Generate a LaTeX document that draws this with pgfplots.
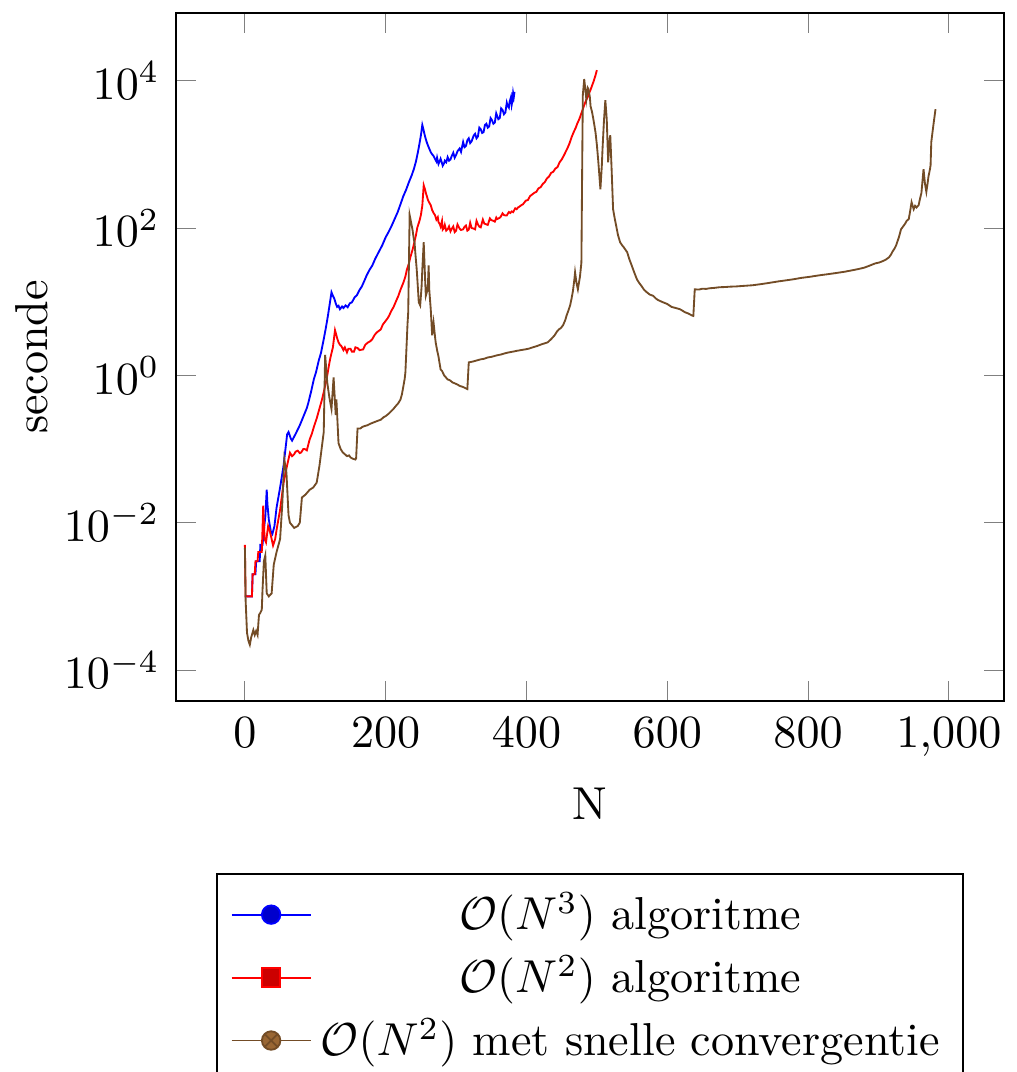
\documentclass[border=0pt]{standalone}
\usepackage{pgfplots}
\pgfplotsset{compat=1.18}
\begin{document}
\begin{tikzpicture}
\begin{axis}[
  scale only axis,
  width=179.4pt, height=149.1pt,
  ymode=log,
  xmin=-98, xmax=1078,
  ymin=3.8e-5, ymax=8.3e4,
  ytick={1e-4,1e-2,1,1e2,1e4},
  xtick={0,200,400,600,800,1000},
  xlabel={N}, ylabel={seconde},
  ylabel style={yshift=-3.4pt},
  legend style={at={(0.5,-0.25)}, anchor=north},
  legend cell align=center,
]
\addlegendimage{blue, mark=*, mark options={fill=blue!80!black}}
\addlegendentry{$\mathcal{O}(N^3)$ algoritme}
\addlegendimage{red, mark=square*, mark options={fill=red!80!black}}
\addlegendentry{$\mathcal{O}(N^2)$ algoritme}
\addlegendimage{brown!60!black, mark=otimes*, mark options={fill=brown!80!black}}
\addlegendentry{$\mathcal{O}(N^2)$ met snelle convergentie}

\addplot[blue, forget plot] coordinates {
(0,0.001)(10,0.001)(11,0.002)(15,0.002)(16,0.003)(21,0.003)(22,0.005)(25,0.005)
(27,0.008)(29,0.012)(31,0.028)(32,0.018)(34,0.011)(37,0.0075)(39,0.007)(42,0.009)
(45,0.016)(50,0.03)(55,0.06)(60,0.158)(62,0.17)(65,0.14)(67,0.13)(72,0.16)(78,0.21)
(84,0.29)(88,0.36)(90,0.42)(94,0.6)(98,0.89)(101,1.1)(105,1.6)(108,2.0)(112,3.1)
(115,4.4)(118,6.5)(121,10)(123,13.4)(125,12)(127,11)(129,9.5)(131,8.5)(133,8.8)
(135,7.9)(138,8.6)(140,8.2)(143,8.9)(146,8.4)(149,9.5)(152,9.8)(156,11.5)(159,12.2)
(163,14.5)(166,16)(170,19.5)(173,22.8)(177,27)(181,31)(185,38)(190,47)(195,58)
(200,75)(204,88)(208,105)(212,128)(217,164)(221,210)(225,270)(229,330)(233,420)
(237,520)(240,630)(243,800)(246,1100)(248,1400)(250,1800)(252,2500)(254,2100)
(255,1900)(257,1600)(259,1400)(261,1250)(264,1070)(266,1000)(268,950)(270,870)
(272,800)(273,900)(275,740)(277,820)(278,870)(280,760)(281,700)(283,760)(284,820)
(286,780)(288,915)(290,820)(292,850)(294,960)(296,1050)(298,900)(300,980)(302,1100)
(305,1200)(307,1080)(310,1470)(312,1250)(314,1300)(316,1550)(318,1650)(320,1420)
(322,1500)(325,1800)(327,1900)(329,1650)(331,1750)(333,2300)(335,2190)(337,1950)
(339,2000)(341,2500)(343,2600)(345,2300)(347,2400)(349,3100)(351,2900)(353,2600)
(355,2700)(357,3600)(358,3390)(360,3000)(362,3100)(364,4200)(366,4000)(368,3500)
(370,3700)(372,5000)(373,4600)(375,4300)(376,5130)(378,6000)(379,4700)(380,5300)
(381,6800)(382,6000)(383,7040)
};

\addplot[red, forget plot] coordinates {
(0,0.005)(1,0.001)(10,0.001)(11,0.002)(14,0.002)(15,0.003)(18,0.003)(19,0.004)
(24,0.004)(25,0.008)(26,0.017)(28,0.006)(30,0.0054)(33,0.009)(35,0.008)(38,0.006)
(40,0.0049)(43,0.006)(45,0.008)(50,0.015)(55,0.035)(60,0.06)(64,0.089)(67,0.08)
(70,0.085)(72,0.092)(75,0.095)(78,0.088)(80,0.09)(83,0.1)(85,0.1)(88,0.096)(92,0.135)
(95,0.16)(98,0.2)(102,0.26)(105,0.33)(109,0.45)(112,0.59)(115,0.8)(117,1.0)
(119,1.3)(121,1.65)(123,2.0)(125,2.4)(128,4.1)(130,3.5)(131,3.2)(133,2.8)(135,2.6)
(137,2.5)(140,2.2)(142,2.4)(145,2.05)(147,2.3)(150,2.3)(152,2.1)(155,2.1)(157,2.4)
(160,2.35)(163,2.2)(168,2.25)(171,2.6)(175,2.8)(178,2.9)(181,3.1)(184,3.5)(187,3.8)
(190,4.0)(193,4.2)(196,4.9)(200,5.5)(203,6.0)(205,6.5)(208,7.5)(211,8.4)(214,9.8)
(218,12)(221,14.5)(225,18)(228,22)(230,27)(233,33)(235,40)(238,50)(240,60)(243,80)
(245,102)(248,125)(250,150)(252,200)(254,380)(256,330)(257,300)(259,260)(260,240)
(262,220)(264,204)(266,175)(268,160)(270,150)(272,130)(274,140)(275,120)(277,112)
(278,105)(280,125)(281,95)(283,100)(284,110)(286,92)(288,96)(290,105)(292,90)
(294,98)(296,105)(298,88)(300,92)(302,112)(305,98)(307,94)(310,96)(312,104)
(314,108)(316,92)(318,95)(320,118)(322,100)(325,98)(327,96)(329,125)(331,112)
(333,104)(335,102)(338,130)(340,115)(343,112)(345,110)(348,135)(350,128)(353,125)
(355,122)(357,138)(358,132)(361,136)(363,140)(366,158)(368,150)(370,148)(372,148)
(375,165)(377,160)(379,168)(381,164)(384,185)(386,180)(388,190)(390,195)(393,205)
(395,210)(399,235)(402,240)(405,270)(408,285)(411,300)(414,310)(417,345)(420,357)
(423,395)(426,420)(429,470)(432,500)(435,560)(438,580)(441,640)(444,670)(447,780)
(450,850)(453,960)(455,1050)(458,1200)(461,1400)(464,1700)(467,2000)(470,2300)
(472,2600)(475,3000)(477,3400)(480,4100)(482,4670)(485,5500)(487,6000)(489,6800)
(491,7500)(493,8500)(495,9550)(498,11800)(500,13900)
};

\addplot[brown!60!black, forget plot] coordinates {
(0,0.0046)(1,0.0009)(3,0.00032)(5,0.00025)(7,0.00022)(9,0.00028)(10,0.0003)
(12,0.00035)(14,0.0003)(16,0.00034)(18,0.0003)(20,0.00056)(22,0.0006)(24,0.00066)
(25,0.0012)(27,0.003)(29,0.0036)(31,0.0011)(34,0.001)(36,0.00105)(38,0.0011)
(41,0.0027)(45,0.004)(50,0.006)(53,0.017)(56,0.072)(59,0.048)(62,0.0126)(64,0.01)
(70,0.0085)(75,0.009)(78,0.01)(81,0.022)(86,0.024)(92,0.028)(97,0.03)(102,0.035)
(106,0.06)(110,0.12)(112,0.17)(114,1.9)(117,0.8)(120,0.5)(123,0.35)(126,0.94)
(129,0.29)(130,0.47)(133,0.12)(136,0.1)(139,0.09)(142,0.085)(145,0.08)(148,0.082)
(150,0.077)(153,0.074)(157,0.072)(158,0.075)(160,0.19)(164,0.19)(167,0.2)(170,0.205)
(174,0.21)(178,0.22)(183,0.23)(188,0.24)(193,0.25)(197,0.27)(200,0.28)(204,0.3)
(207,0.32)(211,0.35)(214,0.38)(218,0.42)(221,0.47)(223,0.55)(225,0.7)(227,0.9)
(228,1.1)(230,3)(231,5)(232,7.2)(234,150)(236,120)(238,96)(240,70)(241,64)(242,47)
(244,28)(245,20)(247,9.8)(249,8.9)(251,16)(252,27)(254,64)(256,20)(257,12)(259,14)
(260,17)(261,31)(262,14)(264,7.9)(266,3.5)(268,5.2)(270,3.4)(271,2.8)(273,2.2)
(275,1.8)(278,1.2)(280,1.15)(283,1.0)(285,0.95)(288,0.88)(291,0.86)(295,0.8)
(298,0.78)(302,0.75)(305,0.72)(309,0.7)(312,0.68)(316,0.65)(318,1.5)(321,1.52)
(325,1.55)(330,1.6)(335,1.65)(340,1.68)(345,1.75)(350,1.78)(358,1.87)(364,1.92)
(370,2.0)(375,2.05)(381,2.1)(386,2.15)(392,2.2)(398,2.25)(403,2.3)(409,2.4)
(415,2.5)(422,2.65)(430,2.8)(435,3.1)(440,3.5)(443,3.9)(446,4.2)(449,4.4)(452,4.8)
(455,5.6)(457,6.5)(460,7.8)(462,8.9)(464,11)(466,14)(468,20)(469,25)(471,18)
(473,14.7)(476,22)(478,34)(479,500)(480,6300)(482,10500)(484,7000)(485,5600)
(487,8000)(488,7700)(490,6000)(491,4500)(493,3800)(495,3000)(498,2000)(500,1340)
(502,800)(503,600)(505,336)(507,700)(508,1180)(510,2800)(512,5440)(514,3000)
(516,780)(518,1500)(519,1820)(521,600)(523,180)(525,140)(528,100)(530,80)(533,64)
(536,58)(538,55)(541,50)(543,47)(546,38)(550,30)(553,25)(557,20)(560,18)(564,16)
(567,14.5)(571,13.4)(575,12.5)(580,12)(584,11)(587,10.5)(590,10.2)(594,9.8)
(600,9.3)(606,8.5)(612,8.2)(618,7.9)(621,7.6)(625,7.2)(630,6.9)(635,6.5)(637,6.4)
(639,14.7)(645,14.6)(650,15)(655,14.9)(660,15.2)(667,15.4)(674,15.7)(682,15.8)
(690,16)(698,16.1)(705,16.3)(713,16.5)(721,16.7)(733,17.3)(745,18)(757,18.8)
(769,19.5)(780,20.2)(790,21)(803,21.8)(816,22.8)(828,23.6)(840,24.5)(852,25.5)
(863,26.7)(872,27.8)(880,29)(888,31)(895,33)(901,34)(906,35.5)(910,37)(915,40)
(918,44)(920,48)(923,53)(925,58)(927,66)(929,75)(932,96)(935,105)(938,115)(940,125)
(943,132)(945,170)(947,224)(950,180)(952,200)(954,190)(957,204)(959,250)(961,300)
(964,630)(966,400)(968,309)(970,420)(971,500)(973,620)(974,710)(975,1470)(978,2500)
(981,4100)
};
\end{axis}
\coordinate (bbsw) at (current bounding box.south west);
\coordinate (bbne) at (current bounding box.north east);
\pgfresetboundingbox
\useasboundingbox ([yshift=2.2pt]bbsw) rectangle ([yshift=2.6pt]bbne);
\end{tikzpicture}
\end{document}
